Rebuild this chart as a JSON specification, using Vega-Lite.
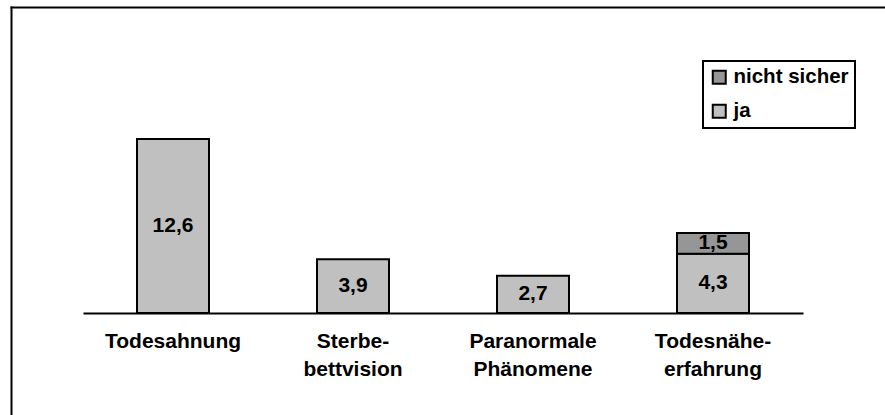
{
  "$schema": "https://vega.github.io/schema/vega-lite/v6.json",
  "autosize": "none",
  "padding": {"left": 11, "top": 7, "right": 0, "bottom": 0},
  "width": 874,
  "height": 408,
  "background": "white",
  "config": {
    "view": {"stroke": null},
    "font": "Liberation Sans",
    "legend": {"strokeWidth": 2}
  },
  "data": {
    "values": [
      {"Kategorie": "Todesahnung", "Antwort": "ja", "Wert": 12.6},
      {"Kategorie": "Sterbe-\nbettvision", "Antwort": "ja", "Wert": 3.9},
      {"Kategorie": "Paranormale\nPhänomene", "Antwort": "ja", "Wert": 2.7},
      {"Kategorie": "Todesnähe-\nerfahrung", "Antwort": "ja", "Wert": 4.3},
      {"Kategorie": "Todesnähe-\nerfahrung", "Antwort": "nicht sicher", "Wert": 1.5}
    ]
  },
  "transform": [
    {"stack": "Wert", "groupby": ["Kategorie"], "sort": [{"field": "Antwort", "order": "ascending"}], "as": ["w0", "w1"]},
    {"calculate": "(datum.w0 + datum.w1) / 2", "as": "mitte"},
    {"calculate": "replace(format(datum.Wert, '.1f'), '.', ',')", "as": "txt"}
  ],
  "layer": [
    {
      "encoding": {
        "x": {
          "field": "Kategorie",
          "type": "nominal",
          "sort": null,
          "scale": {"range": [72, 792], "paddingInner": 0.6, "paddingOuter": 0.3},
          "axis": {
            "title": null,
            "orient": "bottom",
            "offset": -102,
            "domainColor": "black",
            "domainWidth": 2,
            "ticks": false,
            "grid": false,
            "labelAngle": 0,
            "labelFont": "Liberation Sans",
            "labelFontWeight": "bold",
            "labelFontSize": 21,
            "labelColor": "black",
            "labelPadding": 17,
            "labelLineHeight": 28,
            "labelExpr": "split(datum.value, '\\n')"
          }
        }
      },
      "layer": [
        {
          "mark": {"type": "bar", "stroke": "black", "strokeWidth": 2},
          "encoding": {
            "y": {"field": "w1", "type": "quantitative", "scale": {"domain": [0, 20], "range": [306, 30], "nice": false}, "axis": null},
            "y2": {"field": "w0"},
            "color": {
              "field": "Antwort",
              "type": "nominal",
              "scale": {"domain": ["nicht sicher", "ja"], "range": ["#969696", "#C0C0C0"]},
              "legend": {
                "title": null,
                "orient": "none",
                "legendX": 692,
                "legendY": 54,
                "strokeColor": "black",
                "fillColor": "white",
                "padding": 6,
                "symbolType": "square",
                "symbolSize": 169,
                "symbolStrokeColor": "black",
                "symbolStrokeWidth": 2,
                "labelFont": "Liberation Sans",
                "labelFontWeight": "bold",
                "labelFontSize": 20.5,
                "labelColor": "black",
                "labelOffset": 4,
                "rowPadding": 12,
                "labelLimit": 300
              }
            }
          }
        },
        {
          "mark": {"type": "text", "font": "Liberation Sans", "fontWeight": "bold", "fontSize": 21, "color": "black", "baseline": "middle", "align": "center"},
          "encoding": {
            "y": {"field": "mitte", "type": "quantitative"},
            "text": {"field": "txt"}
          }
        }
      ]
    },
    {
      "mark": {"type": "point", "opacity": 0},
      "encoding": {
        "x": {
          "datum": 0,
          "type": "quantitative",
          "scale": {"domain": [0, 1], "nice": false},
          "axis": {"orient": "top", "title": null, "domain": true, "domainColor": "black", "domainWidth": 2, "domainCap": "square", "ticks": false, "labels": false, "grid": false}
        },
        "y": {
          "datum": 0,
          "type": "quantitative",
          "scale": {"domain": [0, 1], "nice": false},
          "axis": {"orient": "left", "title": null, "domain": true, "domainColor": "black", "domainWidth": 2, "domainCap": "square", "ticks": false, "labels": false, "grid": false}
        }
      }
    }
  ],
  "resolve": {
    "scale": {"x": "independent", "y": "independent"},
    "axis": {"x": "independent", "y": "independent"}
  }
}
